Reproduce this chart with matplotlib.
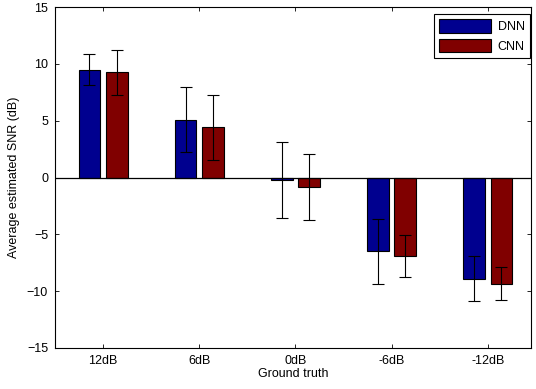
import numpy as np
import matplotlib
matplotlib.use('Agg')
import matplotlib.pyplot as plt

plt.rcParams['font.family'] = ['Liberation Sans', 'DejaVu Sans']

categories = ['12dB', '6dB', '0dB', '-6dB', '-12dB']
dnn_mean = [9.5, 5.1, -0.2, -6.5, -8.9]
dnn_err = [1.4, 2.9, 3.35, 2.87, 2.0]
cnn_mean = [9.25, 4.4, -0.8, -6.9, -9.35]
cnn_err = [1.95, 2.9, 2.9, 1.87, 1.45]

x = np.arange(1, len(categories) + 1)
w = 0.225
off = 0.142

fig = plt.figure(figsize=(5.36, 3.89), dpi=100)
ax = fig.add_axes([55 / 536, 1 - 348 / 389, 476 / 536, 341 / 389])

ax.bar(x - off, dnn_mean, w, color='#00008F', edgecolor='black', linewidth=0.8, label='DNN', zorder=2)
ax.bar(x + off, cnn_mean, w, color='#800000', edgecolor='black', linewidth=0.8, label='CNN', zorder=2)
ax.errorbar(x - off, dnn_mean, yerr=dnn_err, fmt='none', ecolor='black', elinewidth=0.8, capsize=4, capthick=0.8, zorder=3)
ax.errorbar(x + off, cnn_mean, yerr=cnn_err, fmt='none', ecolor='black', elinewidth=0.8, capsize=4, capthick=0.8, zorder=3)
ax.axhline(0, color='black', linewidth=0.9, zorder=2.5)

ax.set_xlim(0.5, 5.45)
ax.set_ylim(-15, 15)
ax.set_yticks([-15, -10, -5, 0, 5, 10, 15])
ax.set_xticks(x)
ax.set_xticklabels(categories)
ax.tick_params(direction='in', length=3, width=0.6, labelsize=9, top=True, right=True, pad=5)
for s in ax.spines.values():
    s.set_linewidth(0.8)

ax.set_xlabel('Ground truth', fontsize=9, labelpad=1)
ax.set_ylabel('Average estimated SNR (dB)', fontsize=9, labelpad=5)

leg = ax.legend(loc='upper right', bbox_to_anchor=(0.997, 0.979), fontsize=9, fancybox=False,
                edgecolor='black', framealpha=1, handlelength=4.2, handleheight=1.3,
                borderaxespad=0, labelspacing=0.45, handletextpad=0.5, borderpad=0.4)
leg.get_frame().set_linewidth(0.8)

fig.savefig('out.png', dpi=100)
